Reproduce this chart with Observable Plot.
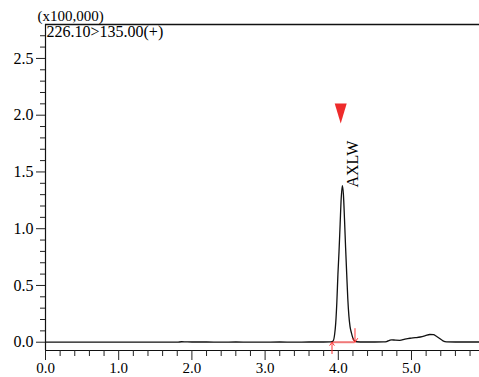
<!DOCTYPE html>
<html>
<head>
<meta charset="utf-8">
<script src="https://cdn.jsdelivr.net/npm/d3@7"></script>
<script src="https://cdn.jsdelivr.net/npm/@observablehq/plot@0.6"></script>
<style>
  html, body { margin: 0; padding: 0; background: #fff; }
  svg { display: block; }
  svg text { font-family: 'Liberation Serif', 'Times New Roman', serif; }
</style>
</head>
<body>
<div id="chart"></div>
<script>
// Retention time (min) and intensity (x100,000)
const times = [0, 0.5, 1.0, 1.5, 1.80, 1.86, 1.92, 2.0, 2.2, 2.4, 2.6, 2.8, 3.0, 3.2, 3.4, 3.6, 3.8,
  3.90, 3.93, 3.95, 3.965, 3.98, 3.995, 4.01, 4.025, 4.04, 4.055, 4.07, 4.085, 4.10, 4.115, 4.13, 4.145, 4.16, 4.18, 4.20, 4.22, 4.25,
  4.35, 4.50, 4.62, 4.66, 4.70, 4.73, 4.78, 4.84, 4.91, 4.98, 5.05, 5.12, 5.19, 5.25, 5.30, 5.34, 5.39, 5.43, 5.48, 5.60, 5.75, 5.93];
const intensity = [0, 0, 0, 0, 0, 0.004, 0.003, 0.002, 0.002, 0.001, 0.002, 0.001, 0.001, 0.002, 0.001, 0.002, 0.002,
  0.003, 0.012, 0.07, 0.17, 0.35, 0.60, 0.80, 1.04, 1.27, 1.38, 1.30, 1.08, 0.83, 0.60, 0.38, 0.23, 0.14, 0.08, 0.035, 0.012, 0.004,
  0.002, 0.002, 0.003, 0.006, 0.016, 0.021, 0.018, 0.017, 0.027, 0.035, 0.040, 0.046, 0.057, 0.068, 0.066, 0.052, 0.030, 0.012, 0.003, 0.002, 0.002, 0.002];

// Axis ticks
const xMajor = [0, 1, 2, 3, 4, 5];
const xMinor = [0.2, 0.4, 0.6, 0.8, 1.2, 1.4, 1.6, 1.8, 2.2, 2.4, 2.6, 2.8, 3.2, 3.4, 3.6, 3.8, 4.2, 4.4, 4.6, 4.8, 5.2, 5.4, 5.6, 5.8];
const yMajor = [0, 0.5, 1.0, 1.5, 2.0, 2.5];
const yMinor = [0.1, 0.2, 0.3, 0.4, 0.6, 0.7, 0.8, 0.9, 1.1, 1.2, 1.3, 1.4, 1.6, 1.7, 1.8, 1.9, 2.1, 2.2, 2.3, 2.4, 2.6, 2.7];

// Annotations
const peakName = ["AXLW"];
const peakApex = [4.033];
const peakMarkerY = [2.015];
const peakLabelX = [4.194];
const peakLabelY = [1.363];
const integStart = [3.914];
const integEnd = [4.228];
const channelLabel = ["226.10>135.00(+)"];
const scaleLabel = ["(x100,000)"];

const xDomain = [0, 5.929];
const yDomain = [-0.073, 2.799];

const data = times.map((t, i) => ({t, v: intensity[i]}));

const triangleDown = {
  draw(ctx) {
    ctx.moveTo(-6, -10);
    ctx.lineTo(6, -10);
    ctx.lineTo(0, 10);
    ctx.closePath();
  }
};

const font = "'Liberation Serif', 'Times New Roman', serif";

const plot = Plot.plot({
  width: 479,
  height: 377,
  marginLeft: 45,
  marginRight: 0,
  marginTop: 24,
  marginBottom: 27,
  style: {fontFamily: font, fontSize: "16px", color: "#000", background: "#fff", overflow: "visible"},
  x: {domain: xDomain},
  y: {domain: yDomain},
  marks: [
    // frame lines
    Plot.ruleY([yDomain[1]], {stroke: "#111", strokeWidth: 1.5}),
    Plot.ruleY([yDomain[0]], {stroke: "#111", strokeWidth: 1.2}),
    Plot.ruleX([xDomain[0]], {stroke: "#111", strokeWidth: 1.2}),
    // axes
    Plot.axisY(yMajor, {tickSize: 9, tickPadding: 3, tickFormat: d3.format(".1f"), fontSize: 16, fontFamily: font, stroke: "#222", label: null}),
    Plot.axisY(yMinor, {tickSize: 5, text: null, stroke: "#222", label: null}),
    Plot.axisX(xMajor, {tickSize: 10, tickPadding: 2, tickFormat: d3.format(".1f"), fontSize: 15, fontFamily: font, stroke: "#222", label: null}),
    Plot.axisX(xMinor, {tickSize: 6, text: null, stroke: "#222", label: null}),
    // integration baseline
    Plot.ruleY([0], {x1: integStart[0], x2: integEnd[0], stroke: "#f07878", strokeWidth: 2}),
    // chromatogram
    Plot.line(data, {x: "t", y: "v", stroke: "#111", strokeWidth: 1.3, curve: "monotone-x"}),
    // integration arrows
    Plot.arrow(integStart, {x1: d => d, x2: d => d, y1: -0.1, y2: 0, stroke: "#ff3333", strokeWidth: 1, headLength: 7, headAngle: 70}),
    Plot.arrow(integEnd, {x1: d => d, x2: d => d, y1: 0.12, y2: 0, stroke: "#ff3333", strokeWidth: 1, headLength: 7, headAngle: 70}),
    // peak marker
    Plot.dot(peakApex, {x: d => d, y: peakMarkerY[0], symbol: triangleDown, fill: "#ee2b2b", stroke: null}),
    Plot.text(peakName, {x: peakLabelX[0], y: peakLabelY[0], text: d => d, rotate: -90, textAnchor: "start", lineAnchor: "middle", fontSize: 16, fontFamily: font, fill: "#000"}),
    // channel label
    Plot.text(channelLabel, {frameAnchor: "top-left", text: d => d, textAnchor: "start", lineAnchor: "top", dx: 1, dy: 1.5, fontSize: 16, fontFamily: font, fill: "#000"}),
    Plot.text(scaleLabel, {frameAnchor: "top-left", text: d => d, textAnchor: "start", lineAnchor: "bottom", dx: -8, dy: -4, fontSize: 15, fontFamily: font, fill: "#000"})
  ]
});

document.getElementById("chart").appendChild(plot);
</script>
</body>
</html>
